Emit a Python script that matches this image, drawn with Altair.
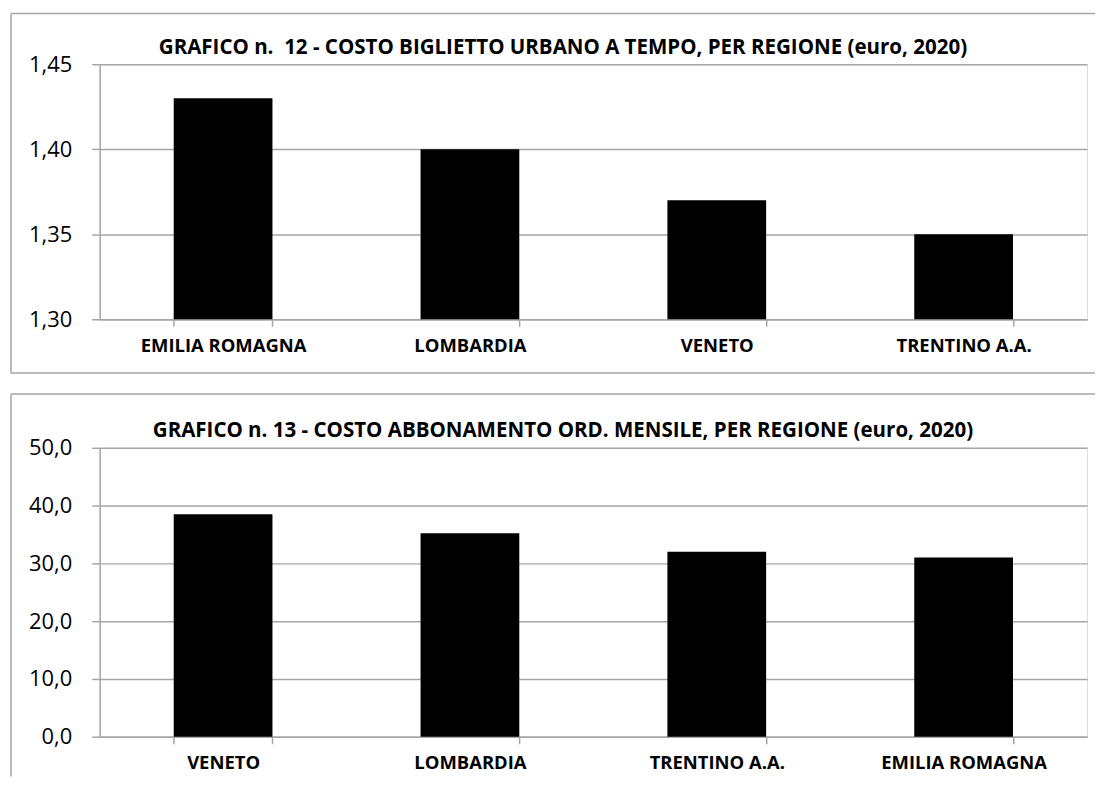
import altair as alt
import pandas as pd

# ---- data ----
regioni_12 = ["EMILIA ROMAGNA", "LOMBARDIA", "VENETO", "TRENTINO A.A."]
costo_12 = [1.43, 1.40, 1.37, 1.35]
ticks_12 = [1.30, 1.35, 1.40, 1.45]
titolo_12 = "GRAFICO n. \u00a012 - COSTO BIGLIETTO URBANO A TEMPO, PER REGIONE (euro, 2020)"

regioni_13 = ["VENETO", "LOMBARDIA", "TRENTINO A.A.", "EMILIA ROMAGNA"]
costo_13 = [38.5, 35.2, 32.0, 31.0]
ticks_13 = [0, 10, 20, 30, 40, 50]
titolo_13 = "GRAFICO n. 13 - COSTO ABBONAMENTO ORD. MENSILE, PER REGIONE (euro, 2020)"

FONT = "Open Sans"
GRAY = "#a6a6a6"
W = 991


def panel(regioni, costi, ticks, fmt, titolo, height, top_off, title_y, bottom_line):
    df = pd.DataFrame({"regione": regioni, "costo": costi,
                       "base": [ticks[0]] * len(regioni)})
    x = alt.X(
        "regione:N",
        sort=None,
        title=None,
        scale=alt.Scale(paddingInner=0.6, paddingOuter=0.3),
        axis=alt.Axis(
            labelAngle=0,
            labelFont=FONT,
            labelFontSize=18.5,
            labelFontWeight="bold",
            labelColor="#000000",
            labelPadding=10,
            tickBand="extent",
            tickSize=7,
            tickColor=GRAY,
            tickWidth=1.5,
            domainColor=GRAY,
            domainWidth=1.5,
            grid=False,
        ),
    )
    y = alt.Y(
        "costo:Q",
        title=None,
        scale=alt.Scale(domain=[ticks[0], ticks[-1]], zero=False, nice=False),
        axis=alt.Axis(
            values=ticks,
            labelExpr=f"replace(format(datum.value, '{fmt}'), '.', ',')",
            labelFont=FONT,
            labelFontSize=22,
            labelColor="#000000",
            labelPadding=20,
            tickSize=8,
            tickColor=GRAY,
            tickWidth=1.5,
            domainColor=GRAY,
            domainWidth=1.5,
            grid=True,
            gridColor=GRAY,
            gridWidth=1.5,
        ),
    )
    bars = alt.Chart(df).mark_bar(color="#000000").encode(x=x, y=y, y2="base:Q")

    tdf = pd.DataFrame({"t": [titolo]})
    title = alt.Chart(tdf).mark_text(
        font=FONT, fontSize=20.6, fontWeight="bold", color="#000000",
        align="center", baseline="alphabetic",
    ).encode(text="t:N", x=alt.value(465), y=alt.value(title_y))

    one = pd.DataFrame({"k": [0]})
    rules = [
        alt.Chart(one).mark_rule(color=GRAY, strokeWidth=1.5).encode(
            x=alt.value(-89), x2=alt.value(999), y=alt.value(top_off)),
        alt.Chart(one).mark_rule(color=GRAY, strokeWidth=1.5).encode(
            x=alt.value(-89), y=alt.value(top_off), y2=alt.value(bottom_line[0])),
    ]
    if bottom_line[1]:
        rules.append(
            alt.Chart(one).mark_rule(color=GRAY, strokeWidth=1.5).encode(
                x=alt.value(-89), x2=alt.value(999), y=alt.value(bottom_line[0])))
    return alt.layer(bars, title, *rules).properties(width=W, height=height)


top = panel(regioni_12, costo_12, ticks_12, ".2f", titolo_12, 256, -51, -10, (310, True))
bottom = panel(regioni_13, costo_13, ticks_13, ".1f", titolo_13, 290, -54, -11, (330, False))

chart = alt.vconcat(top, bottom, spacing=129, bounds="flush").properties(
    padding={"left": 1, "top": 2, "right": 0, "bottom": 0}
).configure_view(stroke=None).configure(background="#ffffff")

chart.save("out.html", embed_options={"renderer": "svg", "actions": False})
